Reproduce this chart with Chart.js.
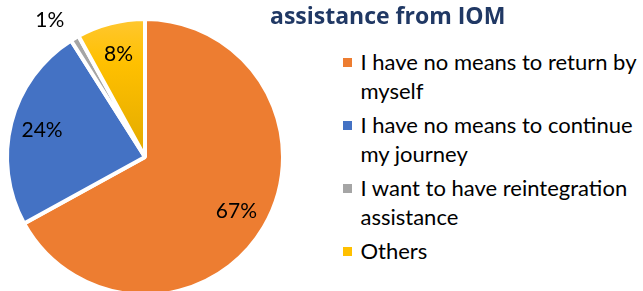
<!DOCTYPE html>
<html>
<head>
<meta charset="utf-8">
<script src="https://cdn.jsdelivr.net/npm/chart.js@4"></script>
<style>
  html, body { margin: 0; padding: 0; background: #fff; }
  #wrap { position: relative; width: 643px; height: 291px; overflow: hidden; font-family: Lato, sans-serif; }
  #pie { position: absolute; left: 0; top: 0; width: 290px; height: 314px; }
  #title { position: absolute; left: 270px; top: 3.6px; font-family: "Open Sans", sans-serif; font-weight: bold; font-size: 23px; color: #203864; line-height: 23px; white-space: nowrap; }
  #legend { position: absolute; left: 343px; top: 46.5px; font-size: 22px; color: #000; }
  .item { position: relative; padding-left: 17.5px; margin-bottom: 5px; line-height: 29px; white-space: nowrap; }
  .box { position: absolute; left: 0; top: 11.5px; width: 9px; height: 9px; }
</style>
</head>
<body>
<div id="wrap">
  <div id="pie"><canvas id="canvas"></canvas></div>
  <div id="title"></div>
  <div id="legend"></div>
</div>
<script>
const titleText = 'assistance from IOM';
const categories = [
    ['I have no means to return by', 'myself'],
    ['I have no means to continue', 'my journey'],
    ['I want to have reintegration', 'assistance'],
    ['Others']
];
const values = [67, 24, 1, 8];
const colors = ['#ED7D31', '#4472C4', '#A5A5A5', '#FFC000'];

document.getElementById('title').textContent = titleText;

const legend = document.getElementById('legend');
categories.forEach((lines, i) => {
    const item = document.createElement('div');
    item.className = 'item';
    const box = document.createElement('span');
    box.className = 'box';
    box.style.background = colors[i];
    item.appendChild(box);
    lines.forEach((t, j) => {
        if (j > 0) item.appendChild(document.createElement('br'));
        item.appendChild(document.createTextNode(t));
    });
    legend.appendChild(item);
});

// yellow slice has a light-to-dark vertical shade in the original
function sliceColor(context) {
    const i = context.dataIndex;
    const area = context.chart.chartArea;
    if (i !== 3 || !area) return colors[i];
    const g = context.chart.ctx.createLinearGradient(0, area.top, 0, area.top + area.height / 2);
    g.addColorStop(0, '#FFCA45');
    g.addColorStop(0.4, '#FFC000');
    g.addColorStop(1, '#E2AA00');
    return g;
}

// percent labels, placed along each slice's middle angle
const pctLabels = {
    id: 'pctLabels',
    afterDatasetsDraw(chart) {
        const c = chart.ctx;
        const meta = chart.getDatasetMeta(0);
        c.save();
        c.font = '21px Lato, sans-serif';
        c.fillStyle = '#000';
        c.textBaseline = 'middle';
        meta.data.forEach((arc, i) => {
            const p = arc.getProps(['x', 'y', 'startAngle', 'endAngle', 'outerRadius']);
            const mid = (p.startAngle + p.endAngle) / 2;
            const outside = values[i] < 3;
            const f = outside ? 1.15 : 0.77;
            const x = p.x + Math.cos(mid) * p.outerRadius * f;
            const y = p.y + Math.sin(mid) * p.outerRadius * f;
            if (outside) c.textAlign = Math.cos(mid) < 0 ? 'right' : 'left';
            else c.textAlign = 'center';
            c.fillText(values[i] + '%', x, y);
        });
        c.restore();
    }
};

const ctx = document.getElementById('canvas').getContext('2d');
new Chart(ctx, {
    type: 'pie',
    data: {
        labels: categories.map(l => l.join(' ')),
        datasets: [{
            data: values,
            backgroundColor: sliceColor,
            borderColor: '#fff',
            borderWidth: 4,
            hoverOffset: 0
        }]
    },
    options: {
        responsive: true,
        maintainAspectRatio: false,
        animation: false,
        radius: 138,
        layout: { padding: 0 },
        plugins: {
            legend: { display: false },
            tooltip: { enabled: false }
        }
    },
    plugins: [pctLabels]
});
</script>
</body>
</html>
